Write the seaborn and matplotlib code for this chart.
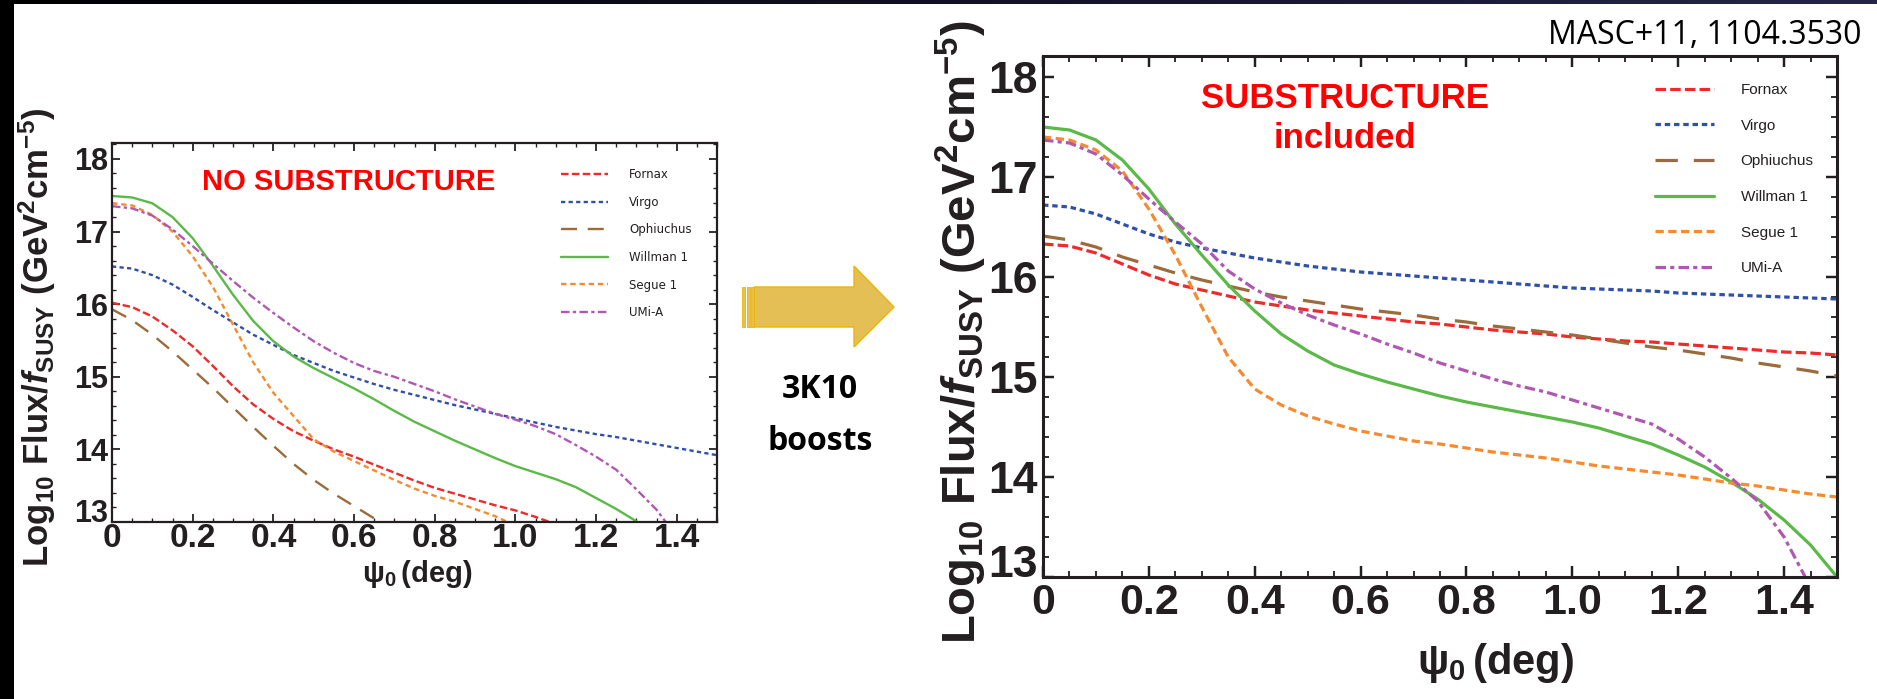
import numpy as np
import pandas as pd
import matplotlib
matplotlib.use("Agg")
import matplotlib.pyplot as plt
import seaborn as sns
from matplotlib.patches import Polygon, Rectangle
from matplotlib.ticker import MultipleLocator
from matplotlib.colors import LinearSegmentedColormap

# ---------------- data ----------------
names = ["Fornax", "Virgo", "Ophiuchus", "Willman 1", "Segue 1", "UMi-A"]
colors = ["#EE2A2B", "#2F4FA8", "#9C6B3C", "#5BB947", "#F58A2E", "#B057B2"]

psi = [0.00, 0.05, 0.10, 0.15, 0.20, 0.25, 0.30, 0.35, 0.40, 0.45, 0.50,
       0.55, 0.60, 0.65, 0.70, 0.75, 0.80, 0.85, 0.90, 0.95, 1.00,
       1.05, 1.10, 1.15, 1.20, 1.25, 1.30, 1.35, 1.40, 1.45, 1.50]

# NO SUBSTRUCTURE (left panel)
nosub_fornax = [16.02, 15.96, 15.83, 15.64, 15.42, 15.15, 14.87, 14.62, 14.42, 14.25, 14.12,
                14.00, 13.90, 13.79, 13.68, 13.57, 13.47, 13.39, 13.31, 13.23, 13.16,
                13.07, 12.97]
nosub_virgo = [16.52, 16.49, 16.40, 16.27, 16.10, 15.92, 15.75, 15.58, 15.44, 15.30, 15.19,
               15.08, 14.99, 14.90, 14.82, 14.75, 14.68, 14.61, 14.55, 14.49, 14.43,
               14.37, 14.31, 14.26, 14.21, 14.17, 14.12, 14.07, 14.02, 13.97, 13.92]
nosub_ophiuchus = [15.93, 15.78, 15.58, 15.35, 15.10, 14.85, 14.58, 14.31, 14.05, 13.80, 13.58,
                   13.39, 13.22, 13.05, 12.90]
nosub_willman = [17.49, 17.47, 17.39, 17.20, 16.91, 16.53, 16.13, 15.77, 15.49, 15.28, 15.12,
                 14.98, 14.84, 14.69, 14.53, 14.38, 14.25, 14.12, 14.00, 13.88, 13.77,
                 13.68, 13.59, 13.48, 13.33, 13.18, 13.01, 12.80]
nosub_segue = [17.39, 17.36, 17.23, 17.00, 16.66, 16.24, 15.72, 15.20, 14.78, 14.46, 14.14,
               13.97, 13.84, 13.71, 13.58, 13.46, 13.36, 13.28, 13.18, 13.08, 12.95]
nosub_umi = [17.35, 17.32, 17.22, 17.03, 16.80, 16.56, 16.32, 16.09, 15.88, 15.68, 15.49,
             15.33, 15.19, 15.08, 15.00, 14.90, 14.80, 14.69, 14.59, 14.49, 14.41,
             14.32, 14.21, 14.06, 13.90, 13.72, 13.45, 13.17, 12.80]

# SUBSTRUCTURE included (right panel)
sub_fornax = [16.33, 16.31, 16.24, 16.13, 16.02, 15.93, 15.87, 15.81, 15.75, 15.71, 15.67,
              15.64, 15.61, 15.58, 15.55, 15.53, 15.50, 15.47, 15.45, 15.43, 15.40,
              15.38, 15.36, 15.35, 15.33, 15.31, 15.29, 15.27, 15.25, 15.24, 15.22]
sub_virgo = [16.72, 16.70, 16.63, 16.53, 16.43, 16.35, 16.29, 16.24, 16.19, 16.15, 16.11,
             16.08, 16.05, 16.03, 16.01, 15.99, 15.97, 15.95, 15.93, 15.91, 15.89,
             15.88, 15.87, 15.86, 15.84, 15.83, 15.82, 15.81, 15.80, 15.79, 15.78]
sub_ophiuchus = [16.41, 16.37, 16.30, 16.20, 16.12, 16.04, 15.97, 15.91, 15.85, 15.80, 15.76,
                 15.72, 15.68, 15.65, 15.62, 15.58, 15.55, 15.51, 15.48, 15.45, 15.42,
                 15.38, 15.34, 15.30, 15.27, 15.23, 15.19, 15.14, 15.10, 15.06, 15.01]
sub_willman = [17.50, 17.47, 17.37, 17.17, 16.88, 16.53, 16.22, 15.92, 15.66, 15.43, 15.26,
               15.12, 15.03, 14.95, 14.88, 14.81, 14.75, 14.70, 14.65, 14.60, 14.55,
               14.49, 14.41, 14.33, 14.22, 14.10, 13.95, 13.78, 13.57, 13.32, 13.00]
sub_segue = [17.40, 17.37, 17.27, 17.06, 16.68, 16.22, 15.70, 15.20, 14.88, 14.72, 14.61,
             14.53, 14.46, 14.41, 14.36, 14.33, 14.29, 14.25, 14.22, 14.19, 14.15,
             14.11, 14.08, 14.05, 14.02, 13.98, 13.94, 13.91, 13.87, 13.83, 13.80]
sub_umi = [17.37, 17.34, 17.23, 17.02, 16.78, 16.55, 16.33, 16.06, 15.88, 15.74, 15.62,
           15.52, 15.43, 15.33, 15.24, 15.14, 15.06, 14.98, 14.91, 14.85, 14.77,
           14.69, 14.61, 14.53, 14.38, 14.20, 13.99, 13.76, 13.40, 12.90]

x_ticks = [0, 0.2, 0.4, 0.6, 0.8, 1.0, 1.2, 1.4]
x_tick_labels = ["0", "0.2", "0.4", "0.6", "0.8", "1.0", "1.2", "1.4"]
y_ticks = [13, 14, 15, 16, 17, 18]
y_tick_labels = ["13", "14", "15", "16", "17", "18"]

nosub_series = [nosub_fornax, nosub_virgo, nosub_ophiuchus, nosub_willman, nosub_segue, nosub_umi]
sub_series = [sub_fornax, sub_virgo, sub_ophiuchus, sub_willman, sub_segue, sub_umi]

# dash patterns (in units of line width)
dash_left = [(3.2, 1.4), (1.8, 1.4), (6.8, 4.5), None, (2.3, 1.6), (3.6, 1.4, 1.4, 1.4)]
dash_right = [(3.3, 1.3), (1.7, 1.2), (7.0, 5.0), None, (2.6, 1.4), (3.3, 1.3, 1.3, 1.3)]

# ---------------- style ----------------
sns.set_style("white")
plt.rcParams["font.family"] = ["Liberation Sans", "DejaVu Sans"]
plt.rcParams["mathtext.fontset"] = "custom"
plt.rcParams["mathtext.rm"] = "Liberation Sans:bold"
plt.rcParams["mathtext.bf"] = "Liberation Sans:bold"
plt.rcParams["mathtext.it"] = "Liberation Sans:bold:italic"
plt.rcParams["mathtext.sf"] = "Liberation Sans:bold"

W, H = 1877, 699
fig = plt.figure(figsize=(W / 100, H / 100), dpi=100, facecolor="white")


def P(x, y):
    return (x / W, 1 - y / H)


FRAME = "#231F20"
ylabel_txt = r"$\mathrm{Log}_{10}\ \mathrm{Flux}/\mathit{f}_{\mathrm{SUSY}}\ (\mathrm{GeV}^{2}\mathrm{cm}^{-5})$"
xlabel_txt = r"$\mathrm{ψ}_{0}\,$(deg)"


def make_panel(rect_px, ylim, series, dashes, lw, frame_lw, xt_size, yt_size,
               xpad, ypad, maj_len, min_len, leg):
    l, t, r, b = rect_px
    ax = fig.add_axes([l / W, 1 - b / H, (r - l) / W, (b - t) / H])
    for name, col, vals, ds in zip(names, colors, series, dashes):
        df = pd.DataFrame({"psi": psi[:len(vals)], "flux": vals})
        kw = {}
        if ds is not None:
            kw["linestyle"] = (0, ds)
        sns.lineplot(data=df, x="psi", y="flux", color=col, lw=lw, ax=ax,
                     label=name, legend=False, **kw)
    ax.set_xlim(0, 1.5)
    ax.set_ylim(*ylim)
    ax.set_xticks(x_ticks, labels=x_tick_labels)
    ax.set_yticks(y_ticks, labels=y_tick_labels)
    ax.xaxis.set_minor_locator(MultipleLocator(0.05))
    ax.yaxis.set_minor_locator(MultipleLocator(0.2))
    ax.tick_params(which="both", direction="in", top=True, right=True,
                   bottom=True, left=True, color=FRAME)
    ax.tick_params(which="major", length=maj_len, width=frame_lw * 0.8)
    ax.tick_params(which="minor", length=min_len, width=frame_lw * 0.6)
    ax.tick_params(axis="x", labelsize=xt_size, pad=xpad, labelcolor=FRAME)
    ax.tick_params(axis="y", labelsize=yt_size, pad=ypad, labelcolor=FRAME)
    for lab in ax.get_xticklabels() + ax.get_yticklabels():
        lab.set_fontweight("bold")
    for sp in ax.spines.values():
        sp.set_linewidth(frame_lw)
        sp.set_color(FRAME)
        sp.set_visible(True)
    ax.set_xlabel("")
    ax.set_ylabel("")
    handles = ax.get_lines()[:len(names)]
    lg = ax.legend(handles, names, loc="upper left",
                   bbox_to_anchor=P(leg["x"], leg["top"]), bbox_transform=fig.transFigure,
                   frameon=False, prop={"family": leg["family"], "size": leg["size"]},
                   handlelength=leg["hl"], handletextpad=leg["htp"],
                   labelspacing=leg["ls"], borderpad=0, borderaxespad=0)
    for txt in lg.get_texts():
        txt.set_color(FRAME)
    return ax


axL = make_panel((112, 143, 717, 522), (13, 18.22), nosub_series, dash_left,
                 lw=1.7, frame_lw=1.6, xt_size=24, yt_size=22, xpad=1, ypad=3,
                 maj_len=6, min_len=3,
                 leg={"x": 561, "top": 168, "family": "DejaVu Sans", "size": 8.5,
                      "hl": 4.0, "htp": 1.75, "ls": 1.24})
axR = make_panel((1043, 56, 1837, 577), (13, 18.21), sub_series, dash_right,
                 lw=2.3, frame_lw=2.2, xt_size=31, yt_size=32, xpad=4, ypad=4,
                 maj_len=8, min_len=4,
                 leg={"x": 1655, "top": 83, "family": "Liberation Sans", "size": 11,
                      "hl": 3.85, "htp": 1.75, "ls": 1.42})

for ax in (axL, axR):
    for lab in ax.get_yticklabels():
        if lab.get_text() == "13":
            lab.set_va("baseline")

# axis labels
axL.set_ylabel(ylabel_txt, fontsize=25, color=FRAME, va="center")
axL.yaxis.set_label_coords((37 - 112) / 605, (522 - 337) / 379)
axL.set_xlabel(xlabel_txt, fontsize=21, fontweight="bold", color=FRAME, va="center")
axL.xaxis.set_label_coords((417 - 112) / 605, (522 - 574) / 379)

axR.set_ylabel(ylabel_txt, fontsize=34, color=FRAME, va="center")
axR.yaxis.set_label_coords((961 - 1043) / 794, (577 - 332) / 521)
axR.set_xlabel(xlabel_txt, fontsize=30, fontweight="bold", color=FRAME, va="center")
axR.xaxis.set_label_coords((1495 - 1043) / 794, (577 - 663) / 521)

# panel annotations
fig.text(*P(349, 182), "NO SUBSTRUCTURE", color="#FF0000", fontsize=21,
         fontweight="bold", ha="center", va="center")
fig.text(*P(1345, 99), "SUBSTRUCTURE", color="#FF0000", fontsize=25,
         fontweight="bold", ha="center", va="center")
fig.text(*P(1345, 138), "included", color="#FF0000", fontsize=25,
         fontweight="bold", ha="center", va="center")

# slide decorations
fig.patches.append(Rectangle((0, 0), 14 / W, 1, transform=fig.transFigure,
                             facecolor="black", edgecolor="none", zorder=0))
bar = fig.add_axes([0, 1 - 4 / H, 1, 4 / H])
grad = np.linspace(0, 1, 256)[None, :]
cm = LinearSegmentedColormap.from_list("bar", ["#000000", "#101025", "#25254a"])
bar.imshow(grad, aspect="auto", cmap=cm, extent=(0, 1, 0, 1))
bar.set_axis_off()

# arrow
arrow_pts = [(754, 287), (854, 287), (854, 266), (894, 307), (854, 347), (854, 327), (754, 327)]
fig.patches.append(Polygon([P(*p) for p in arrow_pts], closed=True, transform=fig.transFigure,
                           facecolor="#E3BF55", edgecolor="#F0B400", lw=1.0, zorder=2))
for x0, x1 in [(742, 745), (746.5, 749.5), (750.5, 753.5)]:
    fig.patches.append(Rectangle(P(x0, 327), (x1 - x0) / W, 40 / H, transform=fig.transFigure,
                                 facecolor="#E3BF55", edgecolor="#F0B400", lw=0.6, zorder=2))

fig.text(*P(820, 389), "3K10", fontsize=23, fontweight="bold", family="Open Sans",
         color="black", ha="center", va="center")
fig.text(*P(820, 441), "boosts", fontsize=23, fontweight="bold", family="Open Sans",
         color="black", ha="center", va="center")

fig.text(*P(1861, 44), "MASC+11, 1104.3530", fontsize=23, family="Open Sans",
         color="black", ha="right", va="baseline")

fig.savefig("out.png", dpi=100, facecolor="white")
